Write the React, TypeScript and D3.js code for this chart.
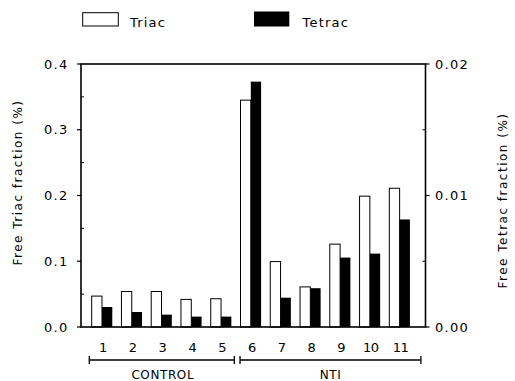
import * as d3 from "d3";

const categories = ["1", "2", "3", "4", "5", "6", "7", "8", "9", "10", "11"];
const triac = [0.047, 0.054, 0.054, 0.042, 0.043, 0.345, 0.0995, 0.061, 0.126, 0.199, 0.211];
const tetrac = [0.00152, 0.00114, 0.00094, 0.00079, 0.00079, 0.01866, 0.00223, 0.00295, 0.00528, 0.00558, 0.00818];
const leftTicks = [0, 0.1, 0.2, 0.3, 0.4];
const leftMinor = [0.05, 0.15, 0.25, 0.35];
const rightTicks = [0, 0.01, 0.02];
const rightMinor = [0.005, 0.015];
const groups = [
  { label: "CONTROL", from: "1", to: "5" },
  { label: "NTI", from: "6", to: "11" },
];

const W = 515;
const H = 381;
const plot = { left: 81, right: 425.5, top: 64, bottom: 327 };
const font = "'DejaVu Sans', sans-serif";

export default function App() {
  const x = d3
    .scaleBand()
    .domain(categories)
    .range([87.1, 414.5])
    .paddingInner(0.308)
    .paddingOuter(0.154);
  const bw = x.bandwidth();
  const step = x.step();
  const xSub = d3.scaleBand().domain(["triac", "tetrac"]).range([0, bw]);

  const yL = d3.scaleLinear().domain([0, 0.4]).range([plot.bottom, plot.top]);
  const yR = d3.scaleLinear().domain([0, 0.02]).range([plot.bottom, plot.top]);

  const fmtL = d3.format(".1f");
  const fmtR = d3.format(".2f");

  // bracket ends, a bit off the bar edges like in the original
  const bracket = (g, i) => {
    if (i === 0) return [x(g.from) - 2.4, x(g.to) + bw + 3];
    return [x(g.from) - 0.5 + step * 0, x(g.to) + bw + 11];
  };

  return (
    <svg width={W} height={H} style={{ position: "absolute", left: 0, top: 0, background: "#fff" }}>
      {/* legend */}
      <g fontFamily={font} fontSize={13} letterSpacing={1.2}>
        <rect x={82.7} y={12.7} width={35.6} height={13.3} fill="#fff" stroke="#000" strokeWidth={1} />
        <text x={130} y={26.5}>Triac</text>
        <rect x={254} y={11.5} width={35.3} height={15} fill="#000" />
        <text x={302.5} y={26.5}>Tetrac</text>
      </g>

      {/* bars */}
      {categories.map((c, i) => (
        <g key={c}>
          <rect
            x={x(c) + xSub("triac")}
            y={yL(triac[i])}
            width={xSub.bandwidth()}
            height={yL(0) - yL(triac[i])}
            fill="#fff"
            stroke="#000"
            strokeWidth={1}
          />
          <rect
            x={x(c) + xSub("tetrac")}
            y={yR(tetrac[i])}
            width={xSub.bandwidth()}
            height={yR(0) - yR(tetrac[i])}
            fill="#000"
          />
        </g>
      ))}

      {/* frame */}
      <rect
        x={plot.left}
        y={plot.top}
        width={plot.right - plot.left}
        height={plot.bottom - plot.top}
        fill="none"
        stroke="#000"
        strokeWidth={1.6}
      />

      {/* left axis */}
      {leftTicks.map((t) => (
        <g key={"l" + t}>
          <line x1={plot.left - 4} x2={plot.left} y1={yL(t)} y2={yL(t)} stroke="#000" strokeWidth={1.2} />
          <text
            x={68.5}
            y={yL(t)}
            dy="0.35em"
            textAnchor="end"
            fontFamily={font}
            fontSize={13}
            letterSpacing={1.3}
          >
            {fmtL(t)}
          </text>
        </g>
      ))}
      {leftMinor.map((t) => (
        <line key={"lm" + t} x1={plot.left} x2={plot.left + 3} y1={yL(t)} y2={yL(t)} stroke="#000" strokeWidth={1} />
      ))}

      {/* right axis */}
      {rightTicks.map((t) => (
        <g key={"r" + t}>
          <line x1={plot.right} x2={plot.right + 4} y1={yR(t)} y2={yR(t)} stroke="#000" strokeWidth={1.2} />
          <text x={435} y={yR(t)} dy="0.35em" fontFamily={font} fontSize={13} letterSpacing={1.3}>
            {fmtR(t)}
          </text>
        </g>
      ))}
      {rightMinor.map((t) => (
        <line key={"rm" + t} x1={plot.right - 3} x2={plot.right} y1={yR(t)} y2={yR(t)} stroke="#000" strokeWidth={1} />
      ))}

      {/* axis titles */}
      <text
        transform={`translate(22,${(plot.top + plot.bottom) / 2 - 13}) rotate(-90)`}
        textAnchor="middle"
        fontFamily={font}
        fontSize={12}
        letterSpacing={1.5}
      >
        Free Triac fraction (%)
      </text>
      <text
        transform={`translate(507,${(plot.top + plot.bottom) / 2 + 5}) rotate(-90)`}
        textAnchor="middle"
        fontFamily={font}
        fontSize={12}
        letterSpacing={1.5}
      >
        Free Tetrac fraction (%)
      </text>

      {/* category labels */}
      {categories.map((c) => (
        <text
          key={"c" + c}
          x={x(c) + bw / 2 + 1}
          y={352}
          textAnchor="middle"
          fontFamily={font}
          fontSize={13}
          letterSpacing={-0.5}
        >
          {c}
        </text>
      ))}

      {/* group brackets */}
      {groups.map((g, i) => {
        const [a, b] = bracket(g, i);
        return (
          <g key={g.label}>
            <line x1={a} x2={b} y1={360} y2={360} stroke="#000" strokeWidth={1.3} />
            <line x1={a} x2={a} y1={356} y2={364} stroke="#000" strokeWidth={1.3} />
            <line x1={b} x2={b} y1={356} y2={364} stroke="#000" strokeWidth={1.3} />
            <text
              x={(a + b) / 2 + (i === 0 ? 1 : 0)}
              y={379}
              textAnchor="middle"
              fontFamily={font}
              fontSize={12}
              letterSpacing={0.6}
            >
              {g.label}
            </text>
          </g>
        );
      })}
    </svg>
  );
}
